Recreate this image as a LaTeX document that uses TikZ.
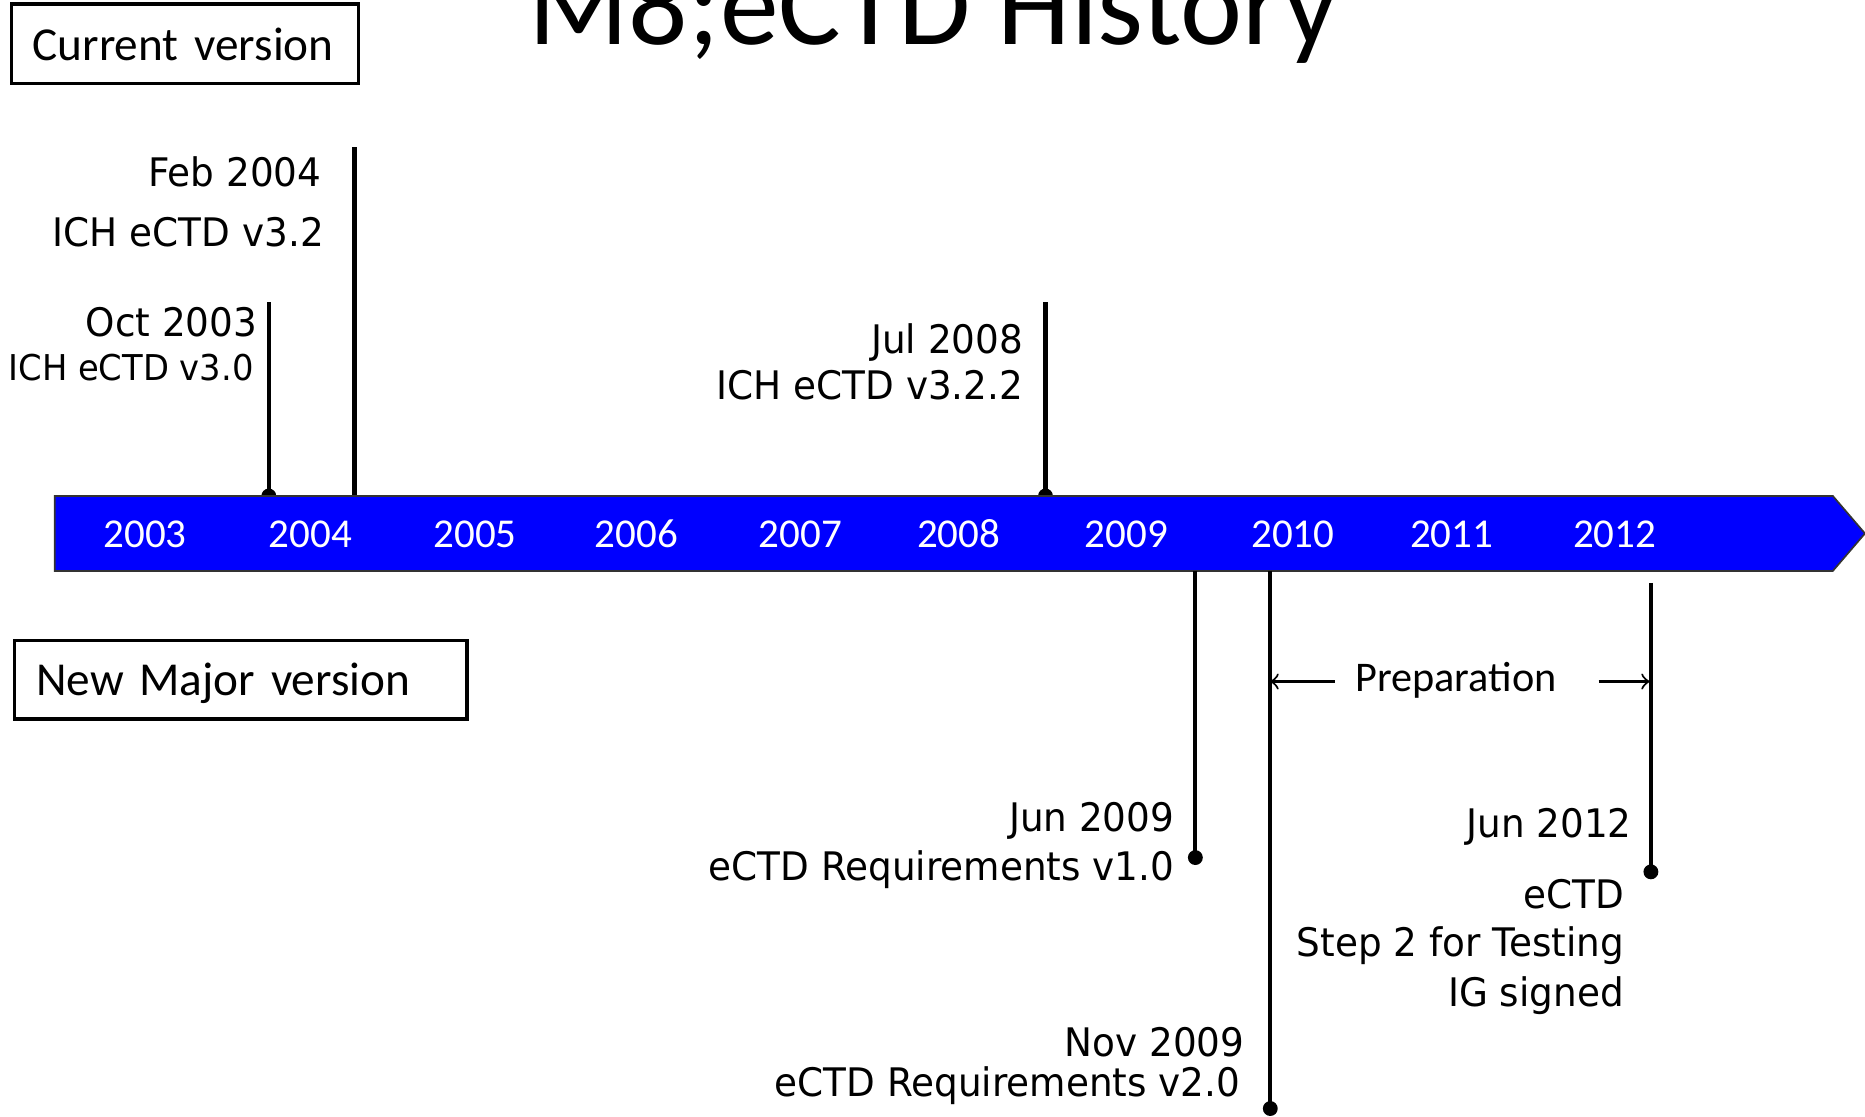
\documentclass[tikz,border=0pt]{standalone}
\usepackage{fontspec}
\setmainfont{Carlito}
\newfontfamily\eventfont[FakeStretch=0.95]{DejaVu Sans}
\usepackage{tikz}

\begin{document}
\begin{tikzpicture}[
        x=0.01cm, y=-0.01cm,
        keyBox/.style={
            % The shape
            rectangle,
            anchor = north west,
            % The border
            line width = 0.8pt,
            draw = black,
            % The text
            align = left,
            inner xsep = 0.18cm,
            text depth = 0pt,
            % Font
            font = \fontsize{11.3}{13}\selectfont
        },
        headingText/.style={
            % The shape
            inner sep = 0pt,
            anchor = base,
            % Font
            font = \fontsize{28.1}{32}\selectfont
        },
        event/.style={
            % The shape
            inner sep = 0pt,
            anchor = base east,
            % The color
            color = black,
            % Font
            font = \eventfont\fontsize{9.4}{11}\selectfont
        },
        smallEvent/.style={
            event,
            % Font
            font = \eventfont\fontsize{8.5}{10}\selectfont
        },
        yearText/.style={
            % The shape
            inner sep = 0pt,
            anchor = base,
            % The color
            color = white,
            % Font
            font = \fontsize{9.8}{12}\selectfont
        },
        timeBar/.style={
            % The border
            line width = 0.4pt,
            draw = black!80,
            % The color
            fill = blue
        },
        stem/.style={
            line width = 1pt,
            draw = black
        },
        milestone/.style={
            circle,
            fill = black,
            inner sep = 0pt,
            minimum size = 0.125cm
        },
        span/.style={
            ->,
            line width = 0.5pt
        }
    ]
        \path[use as bounding box, fill=white] (0,0) rectangle (1568,939);

        \node (heading) [headingText] at (784.5,37) {M8;eCTD History};

        \node (currentVersion) [keyBox,text width=2.56cm,minimum height=0.67cm] at (8,2) {Current version};
        \node (newMajorVersion) [keyBox,text width=3.44cm,minimum height=0.66cm] at (11,537) {New Major version};

        % above the bar
        \node (oct2003_dot) [milestone] at (226,417) {};
        \node (jul2008_dot) [milestone] at (879,417) {};
        \coordinate (oct2003_top) at (226,254);
        \coordinate (jul2008_top) at (879,254);
        \coordinate (feb2004_top) at (298,124);
        \coordinate (feb2004_bar) at (298,417);
        \path (oct2003_top) edge[stem] (oct2003_dot.center);
        \path (jul2008_top) edge[stem] (jul2008_dot.center);
        \path (feb2004_top) edge[stem] (feb2004_bar);

        \node (feb2004) [event] at (271,157) {Feb 2004};
        \node (feb2004_ver) [event] at (273,207) {ICH eCTD v3.2};
        \node (oct2003) [event] at (217,283) {Oct 2003};
        \node (oct2003_ver) [smallEvent] at (214,320) {ICH eCTD v3.0};
        \node (jul2008) [event] at (861,297) {Jul 2008};
        \node (jul2008_ver) [event] at (861,335.5) {ICH eCTD v3.2.2};

        % the bar
        \draw[timeBar] (46,417) -- (1541,417) -- (1568,448.5) -- (1541,480) -- (46,480) -- cycle;
        \node (y2003) [yearText] at (122,460) {2003};
        \node (y2004) [yearText] at (261,460) {2004};
        \node (y2005) [yearText] at (399.5,460) {2005};
        \node (y2006) [yearText] at (535,460) {2006};
        \node (y2007) [yearText] at (673,460) {2007};
        \node (y2008) [yearText] at (806,460) {2008};
        \node (y2009) [yearText] at (947,460) {2009};
        \node (y2010) [yearText] at (1087,460) {2010};
        \node (y2011) [yearText] at (1220.5,460) {2011};
        \node (y2012) [yearText] at (1357.5,460) {2012};

        % below the bar
        \coordinate (jun2009_bar) at (1005,480);
        \coordinate (nov2009_bar) at (1068,480);
        \coordinate (jun2012_top) at (1388,490);
        \node (jun2009_dot) [milestone] at (1005,721) {};
        \node (nov2009_dot) [milestone] at (1068,932) {};
        \node (jun2012_dot) [milestone] at (1388,733) {};
        \path (jun2009_bar) edge[stem] (jun2009_dot.center);
        \path (nov2009_bar) edge[stem] (nov2009_dot.center);
        \path (jun2012_top) edge[stem] (jun2012_dot.center);

        \node (jun2009) [event] at (988,699) {Jun 2009};
        \node (jun2009_ver) [event] at (988,740) {eCTD Requirements v1.0};
        \node (nov2009) [event] at (1047,888) {Nov 2009};
        \node (nov2009_ver) [event] at (1043.5,922) {eCTD Requirements v2.0};
        \node (jun2012) [event] at (1372.5,704.5) {Jun 2012};
        \node (jun2012_ver) [event] at (1366,763.5) {eCTD};
        \node (jun2012_step) [event] at (1366,804.5) {Step 2 for Testing};
        \node (jun2012_ig) [event] at (1366,846.5) {IG signed};

        \node (preparation) [yearText,color=black,font=\fontsize{10.1}{12}\selectfont] at (1224,581.5) {Preparation};
        \coordinate (prep_left) at (1122,573);
        \coordinate (prep_right) at (1344,573);
        \coordinate (nov2009_prep) at (1068,573);
        \coordinate (jun2012_prep) at (1387,573);
        \path (prep_left) edge[span] (nov2009_prep);
        \path (prep_right) edge[span] (jun2012_prep);

    \end{tikzpicture}
\end{document}
